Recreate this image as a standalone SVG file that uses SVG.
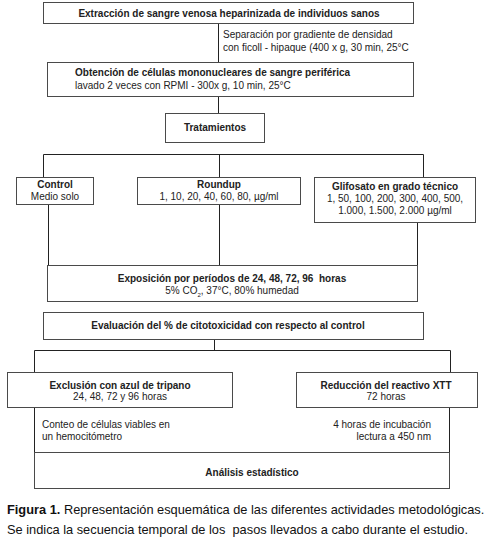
<svg xmlns="http://www.w3.org/2000/svg" width="488" height="546" viewBox="0 0 488 546">
<style>
.box{fill:#fff;stroke:#4a4a4a;stroke-width:1}
.ln{stroke:#222;stroke-width:1;fill:none}
text{font-family:"Liberation Sans",Arial,sans-serif;fill:#222}
.b{font-size:10px;font-weight:bold}
.n{font-size:10px}
.c{text-anchor:middle}
.r{text-anchor:end}
.cap{font-size:12.8px;fill:#111}
</style>
<rect width="488" height="546" fill="#fff"/>
<g id="connectors">
<path class="ln" d="M218.5 23V62M218.5 96V113"/>
<path class="ln" d="M43.5 177V154.5H423.5V177M219.5 154.5V177"/>
<path class="ln" d="M48.5 204V265M219.5 204V265M417.5 222V265"/>
<path class="ln" d="M214.5 339V350.5M34.5 372V350.5H450.5V372"/>
<path class="ln" d="M34.5 407V452M449.5 407V452"/>
</g>
<g id="n1"><rect class="box" x="43.5" y="2.5" width="370" height="21"/><text class="b c" x="229" y="16.5">Extracción de sangre venosa heparinizada de individuos sanos</text></g>
<g id="sep"><text class="n" x="223" y="38">Separación por gradiente de densidad</text><text class="n" x="223" y="51">con ficoll - hipaque (400 x g, 30 min, 25°C</text></g>
<g id="n2"><rect class="box" x="47.5" y="62.5" width="366" height="34"/><text class="b" x="75" y="76">Obtención de células mononucleares de sangre periférica</text><text class="n" x="75" y="89">lavado 2 veces con RPMI - 300x g, 10 min, 25°C</text></g>
<g id="n3"><rect class="box" x="165.5" y="113.5" width="99" height="29"/><text class="b c" x="215" y="131">Tratamientos</text></g>
<g id="n4"><rect class="box" x="16.5" y="177.5" width="77" height="27"/><text class="b c" x="55" y="187.5">Control</text><text class="n c" x="55" y="199.5">Medio solo</text></g>
<g id="n5"><rect class="box" x="137.5" y="177.5" width="163" height="27"/><text class="b c" x="219" y="187.5">Roundup</text><text class="n c" x="219" y="199.5">1, 10, 20, 40, 60, 80, µg/ml</text></g>
<g id="n6"><rect class="box" x="314.5" y="177.5" width="161" height="45"/><text class="b c" x="395" y="190">Glifosato en grado técnico</text><text class="n c" x="395" y="202">1, 50, 100, 200, 300, 400, 500,</text><text class="n c" x="395" y="214">1.000, 1.500, 2.000 µg/ml</text></g>
<g id="n7"><rect class="box" x="47.5" y="265.5" width="370" height="36"/><text class="b c" x="232" y="282" xml:space="preserve">Exposición por períodos de 24, 48, 72, 96  horas</text><text class="n c" x="232" y="294">5% CO<tspan font-size="6" baseline-shift="sub">2</tspan>, 37°C, 80% humedad</text></g>
<g id="n8"><rect class="box" x="43.5" y="312.5" width="380" height="27"/><text class="b c" x="228" y="329">Evaluación del % de citotoxicidad con respecto al control</text></g>
<g id="n9"><rect class="box" x="7.5" y="372.5" width="225" height="35"/><text class="b c" x="120" y="389">Exclusión con azul de tripano</text><text class="n c" x="120" y="400">24, 48, 72 y 96 horas</text></g>
<g id="n10"><rect class="box" x="296.5" y="372.5" width="181" height="35"/><text class="b c" x="386" y="389">Reducción del reactivo XTT</text><text class="n c" x="386" y="400">72 horas</text></g>
<g id="notes"><text class="n" x="42" y="428">Conteo de células viables en</text><text class="n" x="42" y="440">un hemocitómetro</text><text class="n r" x="431" y="428">4 horas de incubación</text><text class="n r" x="431" y="440">lectura a 450 nm</text></g>
<g id="n11"><rect class="box" x="34.5" y="452.5" width="415" height="36"/><text class="b c" x="252" y="476">Análisis estadístico</text></g>
<g id="caption"><text class="cap" x="7" y="514"><tspan font-weight="bold">Figura 1.</tspan> Representación esquemática de las diferentes actividades metodológicas.</text><text class="cap" x="7" y="534" xml:space="preserve">Se indica la secuencia temporal de los  pasos llevados a cabo durante el estudio.</text></g>
</svg>
